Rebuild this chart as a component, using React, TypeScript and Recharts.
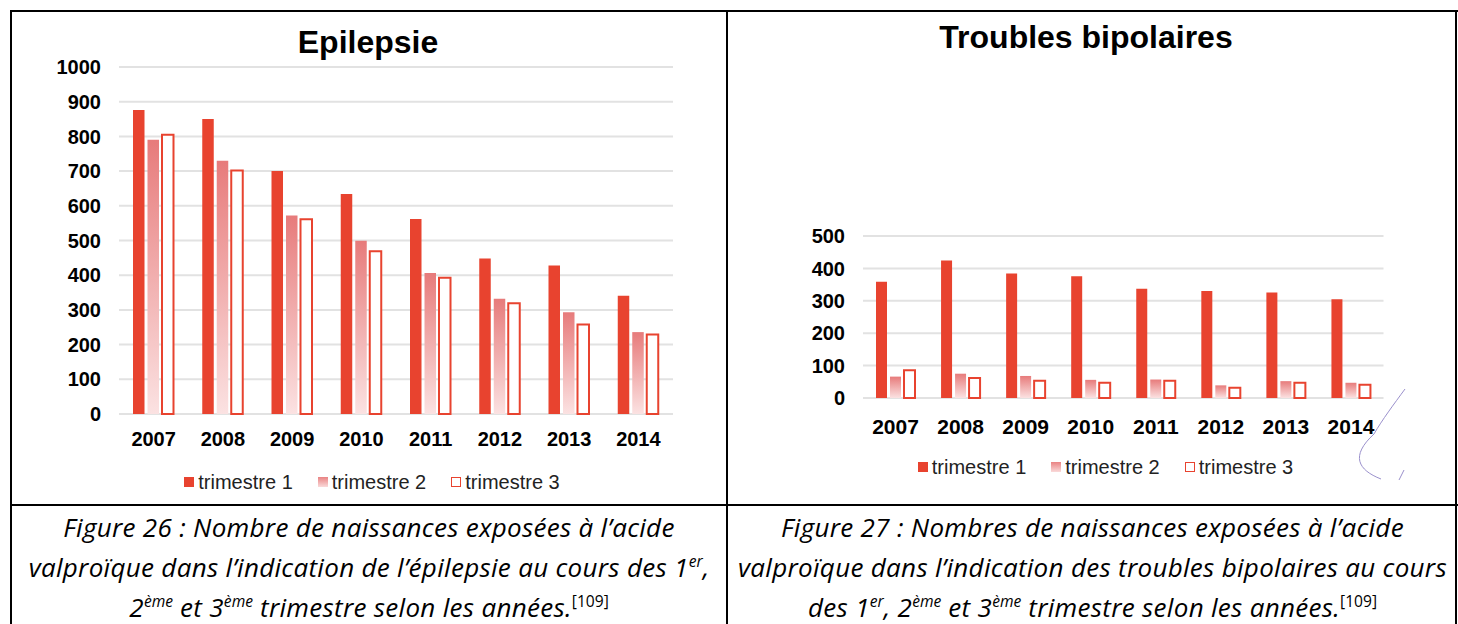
import React from "react";
import { BarChart, Bar, XAxis, YAxis, CartesianGrid, Legend } from "recharts";

const years = ["2007", "2008", "2009", "2010", "2011", "2012", "2013", "2014"];
const seriesNames = ["trimestre 1", "trimestre 2", "trimestre 3"];

const epiT1 = [876, 850, 700, 634, 562, 448, 428, 341];
const epiT2 = [790, 730, 572, 499, 406, 332, 293, 236];
const epiT3 = [805, 702, 561, 469, 393, 319, 258, 229];

const bipT1 = [359, 424, 384, 376, 337, 330, 326, 305];
const bipT2 = [66, 75, 68, 56, 57, 39, 52, 47];
const bipT3 = [86, 62, 53, 47, 53, 32, 47, 41];

const epiTicks = [0, 100, 200, 300, 400, 500, 600, 700, 800, 900, 1000];
const bipTicks = [0, 100, 200, 300, 400, 500];

const epiData = years.map((y, i) => ({ year: y, t1: epiT1[i], t2: epiT2[i], t3: epiT3[i] }));
const bipData = years.map((y, i) => ({ year: y, t1: bipT1[i], t2: bipT2[i], t3: bipT3[i] }));

const RED = "#E8432F";
const FONT = "'Liberation Sans', Arial, sans-serif";
const CAPTION_FONT = "'Open Sans', 'Noto Sans', sans-serif";

function makeLegend(offset: number) {
  return function LegendContent() {
    const items = [
      { name: seriesNames[0], style: { background: RED } },
      { name: seriesNames[1], style: { background: "linear-gradient(#E98383, #FADADA)" } },
      { name: seriesNames[2], style: { background: "#fff", border: `1.5px solid ${RED}`, boxSizing: "border-box" as const } },
    ];
    return (
      <div style={{ display: "flex", justifyContent: "center", alignItems: "center", height: 24, marginLeft: offset * 2 }}>
        {items.map((it, i) => (
          <div key={it.name} style={{ display: "flex", alignItems: "center", marginLeft: i === 0 ? 0 : 25 }}>
            <div style={{ width: 10, height: 10, marginRight: 4, ...it.style }} />
            <span style={{ fontFamily: FONT, fontSize: 20, color: "#222", lineHeight: "24px" }}>{it.name}</span>
          </div>
        ))}
      </div>
    );
  };
}

function Chart(props: {
  data: any[];
  width: number;
  height: number;
  margin: any;
  yWidth: number;
  xHeight: number;
  ticks: number[];
  domainMax: number;
  barSize: number;
  xFont: number;
  xMargin: number;
  legendOffset: number;
  gradId: string;
}) {
  const p = props;
  return (
    <BarChart
      width={p.width}
      height={p.height}
      data={p.data}
      margin={p.margin}
      barSize={p.barSize}
      barGap={3}
    >
      <defs>
        <linearGradient id={p.gradId} x1="0" y1="0" x2="0" y2="1">
          <stop offset="0%" stopColor="#E77B7B" />
          <stop offset="100%" stopColor="#FBE2E2" />
        </linearGradient>
      </defs>
      <CartesianGrid horizontal={true} vertical={false} stroke="#E2E2E2" strokeWidth={2} />
      <XAxis
        dataKey="year"
        axisLine={false}
        tickLine={false}
        tickSize={0}
        tickMargin={p.xMargin}
        height={p.xHeight}
        interval={0}
        tick={{ fontFamily: FONT, fontSize: p.xFont, fontWeight: "bold", fill: "#000" }}
      />
      <YAxis
        domain={[0, p.domainMax]}
        ticks={p.ticks}
        interval={0}
        axisLine={false}
        tickLine={false}
        tickSize={0}
        tickMargin={18}
        width={p.yWidth}
        tick={{ fontFamily: FONT, fontSize: 20, fontWeight: "bold", fill: "#000" }}
      />
      <Legend
        verticalAlign="bottom"
        align="center"
        wrapperStyle={{ left: 0, width: p.width }}
        content={makeLegend(p.legendOffset)}
      />
      <Bar dataKey="t1" name={seriesNames[0]} fill={RED} isAnimationActive={false} />
      <Bar dataKey="t2" name={seriesNames[1]} fill={`url(#${p.gradId})`} isAnimationActive={false} />
      <Bar dataKey="t3" name={seriesNames[2]} fill="#fff" stroke={RED} strokeWidth={2} isAnimationActive={false} />
    </BarChart>
  );
}

const supStyle: React.CSSProperties = { fontSize: "0.6em", verticalAlign: "0.62em", lineHeight: 0, letterSpacing: 0 };

export default function App() {
  const border = (l: number, t: number, w: number, h: number) => (
    <div style={{ position: "absolute", left: l, top: t, width: w, height: h, background: "#000" }} />
  );
  const captionLine: React.CSSProperties = { height: 40, lineHeight: "40px", whiteSpace: "nowrap" };
  const captionBox: React.CSSProperties = {
    position: "absolute",
    top: 507,
    textAlign: "center",
    fontFamily: CAPTION_FONT,
    fontStyle: "italic",
    fontSize: 26,
    letterSpacing: 0.3,
    color: "#000",
  };
  return (
    <div style={{ position: "absolute", left: 0, top: 0, width: 1458, height: 624, background: "#fff", overflow: "hidden" }}>
      {/* Left chart */}
      <div style={{ position: "absolute", left: 11, top: 11 }}>
        <Chart
          data={epiData}
          width={716}
          height={494}
          margin={{ top: 56, right: 54, left: 0, bottom: 11 }}
          yWidth={108}
          xHeight={56}
          ticks={epiTicks}
          domainMax={1000}
          barSize={11.5}
          xFont={20}
          xMargin={18}
          legendOffset={3}
          gradId="gradEpi"
        />
      </div>
      {/* Right chart */}
      <div style={{ position: "absolute", left: 729, top: 11 }}>
        <Chart
          data={bipData}
          width={727}
          height={494}
          margin={{ top: 225, right: 72.5, left: 0, bottom: 26 }}
          yWidth={134}
          xHeight={57}
          ticks={bipTicks}
          domainMax={500}
          barSize={11}
          xFont={21}
          xMargin={21}
          legendOffset={13}
          gradId="gradBip"
        />
      </div>
      {/* Titles */}
      <div style={{ position: "absolute", left: 368, top: 26, transform: "translateX(-50%)", fontFamily: FONT, fontWeight: "bold", fontSize: 32, lineHeight: "32px", whiteSpace: "nowrap", color: "#000" }}>
        Epilepsie
      </div>
      <div style={{ position: "absolute", left: 1086, top: 21, transform: "translateX(-50%)", fontFamily: FONT, fontWeight: "bold", fontSize: 32, lineHeight: "32px", whiteSpace: "nowrap", color: "#000" }}>
        Troubles bipolaires
      </div>
      {/* Captions */}
      <div style={{ ...captionBox, left: 11, width: 716 }}>
        <div style={captionLine}>Figure 26 : Nombre de naissances exposées à l’acide</div>
        <div style={captionLine}>valproïque dans l’indication de l’épilepsie au cours des 1<span style={supStyle}>er</span>,</div>
        <div style={captionLine}>2<span style={supStyle}>ème</span> et 3<span style={supStyle}>ème</span> trimestre selon les années.<span style={{ ...supStyle, fontStyle: "normal" }}>[109]</span></div>
      </div>
      <div style={{ ...captionBox, left: 729, width: 727 }}>
        <div style={captionLine}>Figure 27 : Nombres de naissances exposées à l’acide</div>
        <div style={captionLine}>valproïque dans l’indication des troubles bipolaires au cours</div>
        <div style={captionLine}>des 1<span style={supStyle}>er</span>, 2<span style={supStyle}>ème</span> et 3<span style={supStyle}>ème</span> trimestre selon les années.<span style={{ ...supStyle, fontStyle: "normal" }}>[109]</span></div>
      </div>
      {/* Decorative scan stroke */}
      <svg style={{ position: "absolute", left: 0, top: 0 }} width={1458} height={624}>
        <path d="M1405,389 C1394,404 1382,420 1374,434 C1350,456 1358,470 1381,479 M1404,470 L1399,480" fill="none" stroke="#9A90CC" strokeWidth={1} />
      </svg>
      {/* Table borders */}
      {border(10, 10, 1448, 2)}
      {border(10, 10, 2, 614)}
      {border(726, 10, 2, 614)}
      {border(1455, 10, 2, 614)}
      {border(10, 504, 1448, 2)}
    </div>
  );
}
